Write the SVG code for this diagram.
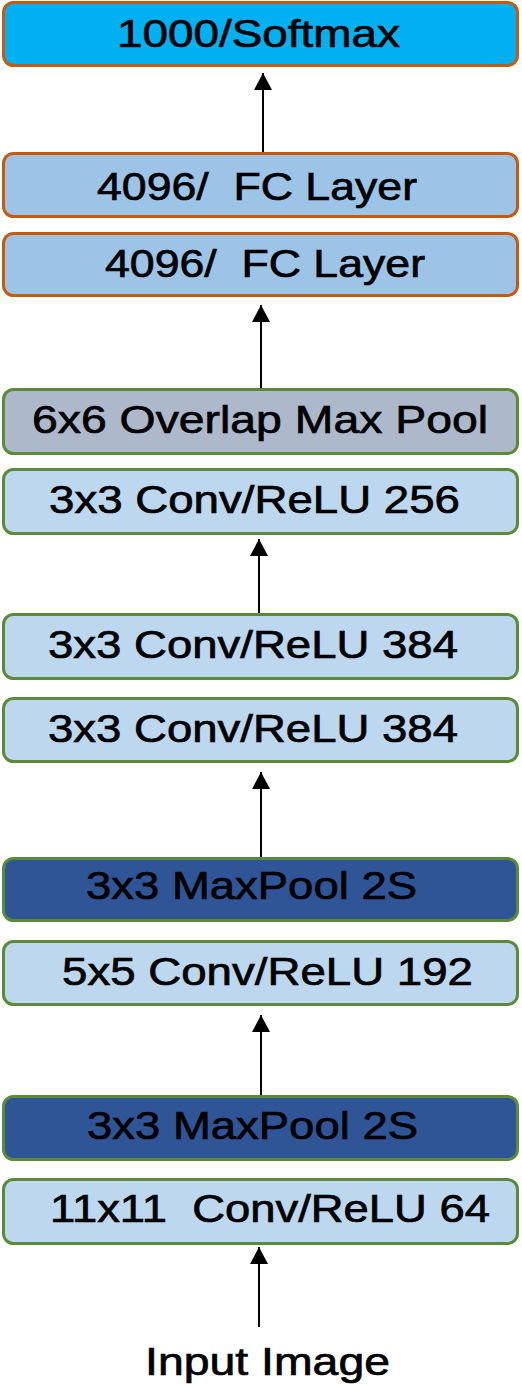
<svg xmlns="http://www.w3.org/2000/svg" width="522" height="1385" viewBox="0 0 522 1385">
<defs>
<marker id="ah" markerUnits="userSpaceOnUse" markerWidth="20" markerHeight="20" viewBox="0 0 20 20" refX="17" refY="10" orient="auto">
<path d="M0,1 L17,10 L0,19 Z" fill="#000"/>
</marker>
<style>
rect{stroke-width:3}
.o{stroke:#C55A11}
.g{stroke:#5A8A3A}
.sm{fill:#00B0F0}
.fc{fill:#9DC3E6}
.gp{fill:#ADB9CA}
.cv{fill:#BDD7EE}
.mp{fill:#2F5597}
text{font-family:"Liberation Sans",Arial,sans-serif;font-size:39px;fill:#000;stroke:#000;stroke-width:0.7px}
.c line{stroke:#000;stroke-width:2;marker-end:url(#ah)}
</style>
</defs>
<rect width="522" height="1385" fill="#fff"/>
<g id="softmax"><rect class="o sm" x="3.5" y="2.5" width="514" height="63" rx="10"/><text x="117" y="47" textLength="283" lengthAdjust="spacingAndGlyphs">1000/Softmax</text></g>
<g id="fc1"><rect class="o fc" x="3.5" y="153.5" width="514" height="63" rx="10"/><text x="97" y="200" textLength="320" lengthAdjust="spacingAndGlyphs" xml:space="preserve">4096/  FC Layer</text></g>
<g id="fc2"><rect class="o fc" x="3.5" y="233.5" width="514" height="62" rx="10"/><text x="105" y="277" textLength="320" lengthAdjust="spacingAndGlyphs" xml:space="preserve">4096/  FC Layer</text></g>
<g id="pool3"><rect class="g gp" x="3.5" y="389.5" width="514" height="64" rx="10"/><text x="32" y="433" textLength="456" lengthAdjust="spacingAndGlyphs">6x6 Overlap Max Pool</text></g>
<g id="conv5"><rect class="g cv" x="3.5" y="469.5" width="514" height="64" rx="10"/><text x="49" y="513" textLength="411" lengthAdjust="spacingAndGlyphs">3x3 Conv/ReLU 256</text></g>
<g id="conv4"><rect class="g cv" x="3.5" y="614.5" width="514" height="64" rx="10"/><text x="48" y="658" textLength="410" lengthAdjust="spacingAndGlyphs">3x3 Conv/ReLU 384</text></g>
<g id="conv3"><rect class="g cv" x="3.5" y="698.5" width="514" height="63" rx="10"/><text x="48" y="742" textLength="410" lengthAdjust="spacingAndGlyphs">3x3 Conv/ReLU 384</text></g>
<g id="pool2"><rect class="g mp" x="3.5" y="858.5" width="514" height="62" rx="10"/><text x="86" y="899" textLength="331" lengthAdjust="spacingAndGlyphs">3x3 MaxPool 2S</text></g>
<g id="conv2"><rect class="g cv" x="3.5" y="941.5" width="514" height="63" rx="10"/><text x="62" y="985" textLength="411" lengthAdjust="spacingAndGlyphs">5x5 Conv/ReLU 192</text></g>
<g id="pool1"><rect class="g mp" x="3.5" y="1096.5" width="514" height="63" rx="10"/><text x="87" y="1139" textLength="331" lengthAdjust="spacingAndGlyphs">3x3 MaxPool 2S</text></g>
<g id="conv1"><rect class="g cv" x="3.5" y="1179.5" width="514" height="64" rx="10"/><text x="50" y="1222" textLength="440" lengthAdjust="spacingAndGlyphs" xml:space="preserve">11x11  Conv/ReLU 64</text></g>
<g id="input"><text x="145" y="1375" textLength="245" lengthAdjust="spacingAndGlyphs">Input Image</text></g>
<g id="connectors" class="c">
<line x1="263" y1="152" x2="263" y2="73"/>
<line x1="261" y1="388" x2="261" y2="305"/>
<line x1="259" y1="613" x2="259" y2="539"/>
<line x1="261" y1="857" x2="261" y2="772"/>
<line x1="261" y1="1095" x2="261" y2="1015"/>
<line x1="259" y1="1327" x2="259" y2="1247"/>
</g>
</svg>
